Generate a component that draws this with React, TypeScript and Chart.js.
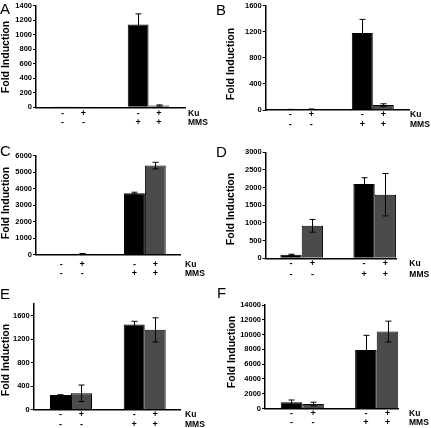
import React, { useEffect, useRef } from "react";
import { Chart, registerables } from "chart.js";

Chart.register(...registerables);

// ---- data ----
const groupX = [1, 2]; // MMS − , MMS +
const groupNames = ["MMS −", "MMS +"];
const kuSigns = ["-", "+"]; // dataset 0 (black) = Ku −, dataset 1 (gray) = Ku +
const mmsSigns = ["-", "+"]; // group 0 = MMS −, group 1 = MMS +
const seriesNames = ["Ku −", "Ku +"];
const letters = ["A", "B", "C", "D", "E", "F"];
const yTitle = "Fold Induction";

const aBlack = [1, 1140];
const aBlackErr = [0, 145];
const aGray = [2, 25];
const aGrayErr = [0, 8];

const bBlack = [8, 1180];
const bBlackErr = [2, 210];
const bGray = [12, 75];
const bGrayErr = [3, 20];

const cBlack = [10, 3730];
const cBlackErr = [0, 60];
const cGray = [60, 5400];
const cGrayErr = [20, 200];

const dBlack = [100, 2100];
const dBlackErr = [15, 180];
const dGray = [920, 1800];
const dGrayErr = [180, 600];

const eBlack = [250, 1450];
const eBlackErr = [5, 55];
const eGray = [280, 1360];
const eGrayErr = [140, 205];

const fBlack = [850, 7900];
const fBlackErr = [300, 2000];
const fGray = [600, 10400];
const fGrayErr = [250, 1420];

const yMax = [1400, 1600, 6000, 3000, 1800, 14000];
const yStep = [200, 400, 1000, 500, 400, 2000];

// ---- layout (positions and styles only) ----
type Geo = {
  left: number; top: number; w: number; h: number;
  l: number; t: number; r: number; b: number;
  xmin: number; xmax: number; cat: number;
  letter: [number, number]; title: [number, number];
  rows: [number, number]; kuX: number;
};

const geos: Geo[] = [
  { left: 0, top: 0, w: 215, h: 140, l: 36, t: 4.7, r: 185, b: 107.3, xmin: 0.51, xmax: 2.483, cat: 0.55, letter: [0, 13.5], title: [6, 57], rows: [113.3, 122.7], kuX: 188 },
  { left: 215, top: 0, w: 216, h: 140, l: 50.7, t: 5.7, r: 194, b: 110, xmin: 0.512, xmax: 2.503, cat: 0.583, letter: [1, 15], title: [16, 64], rows: [115, 125], kuX: 195 },
  { left: 0, top: 140, w: 215, h: 145, l: 36, t: 15.7, r: 180, b: 114.8, xmin: 0.512, xmax: 2.48, cat: 0.57, letter: [0, 16], title: [6, 63], rows: [124.5, 133.5], kuX: 185 },
  { left: 215, top: 140, w: 216, h: 145, l: 50.7, t: 12.3, r: 181.7, b: 118.3, xmin: 0.507, xmax: 2.301, cat: 0.585, letter: [1, 16.7], title: [16, 69], rows: [124, 134.3], kuX: 194.3 },
  { left: 0, top: 285, w: 215, h: 143, l: 33.7, t: 19, r: 180, b: 124.7, xmin: 0.494, xmax: 2.479, cat: 0.57, letter: [0, 14], title: [6, 75], rows: [130, 139.3], kuX: 185 },
  { left: 215, top: 285, w: 216, h: 143, l: 50, t: 20, r: 183, b: 123.5, xmin: 0.499, xmax: 2.286, cat: 0.58, letter: [2, 13.3], title: [17, 67], rows: [129, 138], kuX: 194 },
];

const panels = [
  { black: aBlack, blackErr: aBlackErr, gray: aGray, grayErr: aGrayErr },
  { black: bBlack, blackErr: bBlackErr, gray: bGray, grayErr: bGrayErr },
  { black: cBlack, blackErr: cBlackErr, gray: cGray, grayErr: cGrayErr },
  { black: dBlack, blackErr: dBlackErr, gray: dGray, grayErr: dGrayErr },
  { black: eBlack, blackErr: eBlackErr, gray: eGray, grayErr: eGrayErr },
  { black: fBlack, blackErr: fBlackErr, gray: fGray, grayErr: fGrayErr },
];

const FONT = "'Liberation Sans', Arial, Helvetica, sans-serif";
const GRAY = "#4b4b4b";

function Panel({ idx }: { idx: number }) {
  const ref = useRef<HTMLCanvasElement | null>(null);
  const g = geos[idx];
  const p = panels[idx];

  useEffect(() => {
    if (!ref.current) return;
    const values = [p.black, p.gray];
    const errs = [p.blackErr, p.grayErr];

    const overlay = {
      id: "overlay" + idx,
      afterDatasetsDraw(chart: any) {
        const ctx = chart.ctx;
        const ys = chart.scales.y;
        ctx.save();
        ctx.strokeStyle = "#000";
        ctx.lineWidth = 1;
        values.forEach((vals, di) => {
          const meta = chart.getDatasetMeta(di);
          meta.data.forEach((el: any, i: number) => {
            const e = errs[di][i];
            if (!e) return;
            const v = vals[i];
            const x = Math.round(el.x) + 0.5;
            const yt = ys.getPixelForValue(v + e);
            const yb = ys.getPixelForValue(Math.max(0, v - e));
            ctx.beginPath();
            ctx.moveTo(x, yb);
            ctx.lineTo(x, yt);
            ctx.moveTo(x - 3, yt);
            ctx.lineTo(x + 3, yt);
            ctx.moveTo(x - 3, yb);
            ctx.lineTo(x + 3, yb);
            ctx.stroke();
          });
        });
        ctx.restore();
      },
      afterDraw(chart: any) {
        const ctx = chart.ctx;
        ctx.save();
        ctx.fillStyle = "#000";
        // panel letter
        ctx.font = `300 15px ${FONT}`;
        ctx.textAlign = "left";
        ctx.textBaseline = "alphabetic";
        ctx.fillText(letters[idx], g.letter[0], g.letter[1]);
        // y title
        ctx.save();
        ctx.translate(g.title[0], g.title[1]);
        ctx.rotate(-Math.PI / 2);
        ctx.font = `bold 10.5px ${FONT}`;
        ctx.textAlign = "center";
        ctx.textBaseline = "middle";
        ctx.fillText(yTitle, 0, 0);
        ctx.restore();
        // sign rows
        ctx.font = `bold 9px ${FONT}`;
        ctx.textAlign = "center";
        ctx.textBaseline = "middle";
        [0, 1].forEach((di) => {
          const meta = chart.getDatasetMeta(di);
          meta.data.forEach((el: any, i: number) => {
            ctx.fillText(kuSigns[di], el.x, g.rows[0]);
            ctx.fillText(mmsSigns[i], el.x, g.rows[1]);
          });
        });
        ctx.font = `bold 8.5px ${FONT}`;
        ctx.textAlign = "left";
        ctx.fillText("Ku", g.kuX, g.rows[0]);
        ctx.fillText("MMS", g.kuX, g.rows[1]);
        ctx.restore();
      },
    };

    const chart = new Chart(ref.current, {
      type: "bar",
      data: {
        datasets: [
          {
            label: seriesNames[0],
            data: groupX.map((x, i) => ({ x, y: p.black[i] })),
            backgroundColor: "#000",
            borderColor: "#000",
            borderWidth: 1,
            categoryPercentage: g.cat,
            barPercentage: 1,
          },
          {
            label: seriesNames[1],
            data: groupX.map((x, i) => ({ x, y: p.gray[i] })),
            backgroundColor: GRAY,
            borderColor: "#000",
            borderWidth: 1,
            categoryPercentage: g.cat,
            barPercentage: 1,
          },
        ],
      },
      options: {
        animation: false,
        responsive: false,
        layout: { padding: { left: 0, top: g.t, right: g.w - g.r, bottom: g.h - g.b } },
        plugins: { legend: { display: false }, tooltip: { enabled: false }, title: { display: false } },
        scales: {
          x: {
            type: "linear",
            min: g.xmin,
            max: g.xmax,
            offset: false,
            ticks: { display: false },
            grid: { display: false },
            border: { display: true, color: "#000", width: 1.5 },
            afterFit: (s: any) => { s.height = 0; },
          },
          y: {
            min: 0,
            max: yMax[idx],
            ticks: {
              stepSize: yStep[idx],
              includeBounds: false,
              color: "#000",
              padding: 1,
              font: { family: FONT, size: 7.5, weight: "bold" },
              callback: (v: any) => String(v),
            },
            grid: { display: true, drawOnChartArea: false, drawTicks: true, tickLength: 3, color: "#000", lineWidth: 1 },
            border: { display: true, color: "#000", width: 1.5 },
            afterFit: (s: any) => { s.width = g.l; },
          },
        },
      },
      plugins: [overlay],
    } as any);
    return () => chart.destroy();
  }, [idx]);

  return (
    <canvas
      ref={ref}
      width={g.w}
      height={g.h}
      aria-label={`Panel ${letters[idx]}: ${groupNames.join(", ")}`}
      style={{ position: "absolute", left: g.left, top: g.top, width: g.w, height: g.h }}
    />
  );
}

export default function App() {
  return (
    <div style={{ position: "absolute", left: 0, top: 0, width: 431, height: 428, background: "#fff" }}>
      {letters.map((_, i) => (
        <Panel key={i} idx={i} />
      ))}
    </div>
  );
}
